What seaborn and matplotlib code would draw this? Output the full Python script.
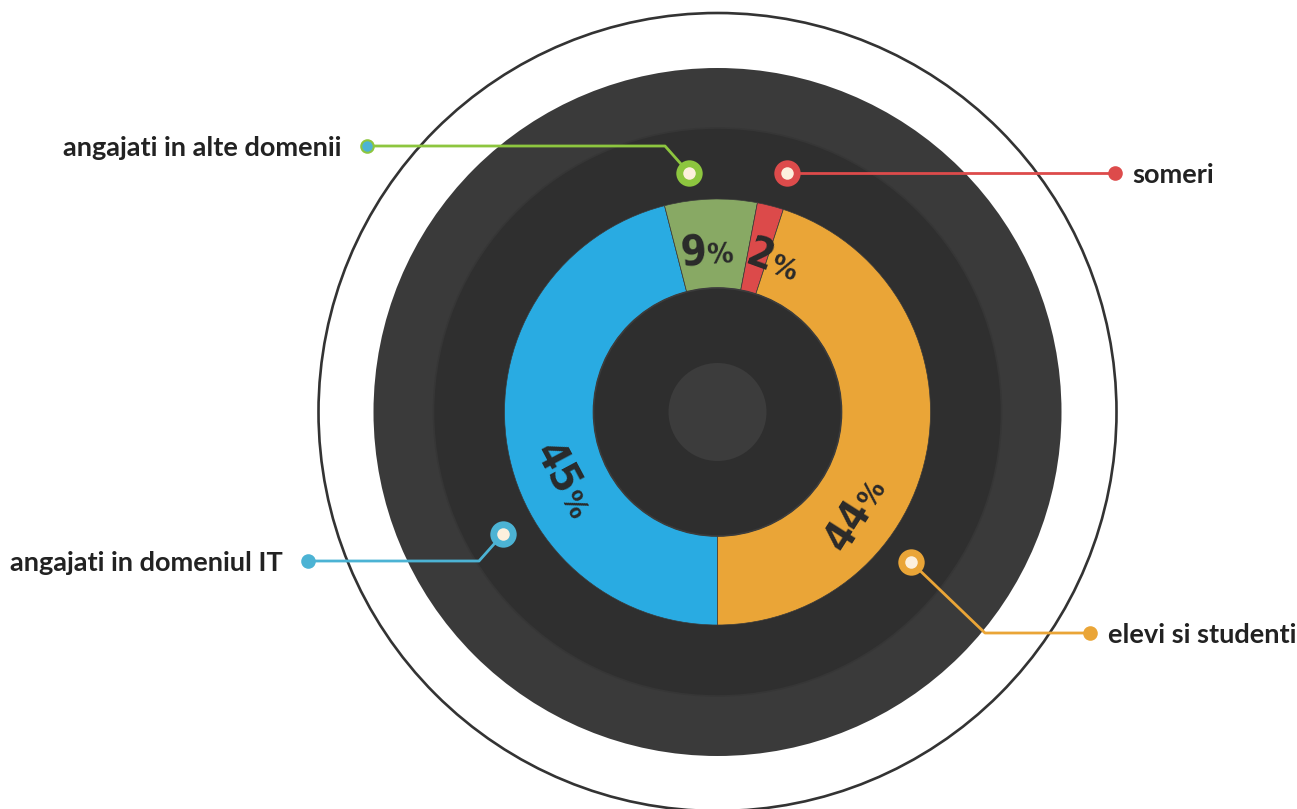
import numpy as np
import matplotlib.pyplot as plt
import seaborn as sns
from matplotlib.patches import Circle

sns.set_theme(style="white")
plt.rcParams['font.family'] = ['Lato', 'DejaVu Sans']

# date
categorii = ['angajati in domeniul IT', 'angajati in alte domenii', 'someri', 'elevi si studenti']
procente = [45, 9, 2, 44]          # valorile scrise pe grafic
felii = [46, 7, 2, 45]             # cat ocupa fiecare felie desenata
culori_felii = ['#29abe2', '#88a964', '#dc4a4a', '#eaa537']
culori_marker = ['#4cb3d4', '#8dc63f', '#dd4b4b', '#eaa537']

W, H = 1297, 809
cx, cy = 717.5, H - 412  # centrul graficului (coordonate cu y in sus)


def polar(theta, r):
    t = np.deg2rad(theta)
    return cx + r * np.cos(t), cy + r * np.sin(t)


def scr(x, y):
    # coordonate de ecran (y in jos) -> axa
    return x, H - y


fig = plt.figure(figsize=(W / 100, H / 100), dpi=100)
ax = fig.add_axes([0, 0, 1, 1])

# cercuri de fundal
ax.add_patch(Circle((cx, cy), 399, facecolor='white', edgecolor='#333333', lw=1.9, zorder=1))
ax.add_patch(Circle((cx, cy), 344, facecolor='#3a3a3a', edgecolor='none', zorder=2))
ax.add_patch(Circle((cx, cy), 284, facecolor='#2f2f2f', edgecolor='#363636', lw=1.2, zorder=3))

# inelul cu procente
wedges, _ = ax.pie(felii, colors=culori_felii, startangle=-90, counterclock=False,
                   radius=213, center=(cx, cy),
                   wedgeprops=dict(width=89, edgecolor='#3a3a3a', linewidth=0.5))
for w in wedges:
    w.set_zorder(4)

ax.add_patch(Circle((cx, cy), 124, facecolor='#2e2e2e', edgecolor='#3c3c3c', lw=1.2, zorder=5))
ax.add_patch(Circle((cx, cy), 49, facecolor='#3c3c3c', edgecolor='none', zorder=6))

# etichete procente: (unghi, raza) pentru punctul de jonctiune pe linia de baza
etichete_pos = [(208.1, 180, 'jos'), (93.9, 148, 'sus'), (70.0, 149, 'sus'), (-32.5, 183, 'jos')]
for val, (th, r, parte) in zip(procente, etichete_pos):
    x, y = polar(th, r)
    rot = th - 90 if parte == 'sus' else th + 90
    kw = dict(rotation=rot, rotation_mode='anchor', va='baseline', color='#2a2a2a',
              family='DejaVu Sans', fontstretch='condensed', fontweight='bold', zorder=7)
    ax.text(x, y, str(val), ha='right', fontsize=30, **kw)
    ax.text(x, y, '%', ha='left', fontsize=21, **kw)

# linii de legatura: marker pe inel, cot, capat, eticheta
markere = [(503, 534), (689, 173), (787, 173), (911, 562)]
coturi = [(479, 561), (665, 146), (787, 173), (985, 633)]
capete = [(308, 561), (367, 146), (1115, 173), (1090, 633)]
text_x = [283, 341, 1132, 1108]
text_ha = ['right', 'right', 'left', 'left']
capat_fill = ['#4cb3d4', '#4cb3d4', '#dd4b4b', '#eaa537']

for i, nume in enumerate(categorii):
    c = culori_marker[i]
    xs, ys = zip(*[scr(*markere[i]), scr(*coturi[i]), scr(*capete[i])])
    ax.plot(xs, ys, color=c, lw=2.0, zorder=8, solid_capstyle='round')
    ax.plot(*scr(*capete[i]), 'o', ms=9, mfc=capat_fill[i], mec=c, mew=1.5, zorder=9)
    ax.plot(*scr(*markere[i]), 'o', ms=19, mfc=c, mec='none', zorder=9)
    ax.plot(*scr(*markere[i]), 'o', ms=9, mfc='#fdf0dd', mec='none', zorder=10)
    ax.text(text_x[i], H - capete[i][1], nume, ha=text_ha[i], va='center_baseline',
            fontsize=19.5, fontweight='bold', color='#222222', zorder=10)

ax.set_xlim(0, W)
ax.set_ylim(0, H)
ax.set_aspect('equal')
ax.axis('off')

fig.savefig('out.png', dpi=100, facecolor='white')
